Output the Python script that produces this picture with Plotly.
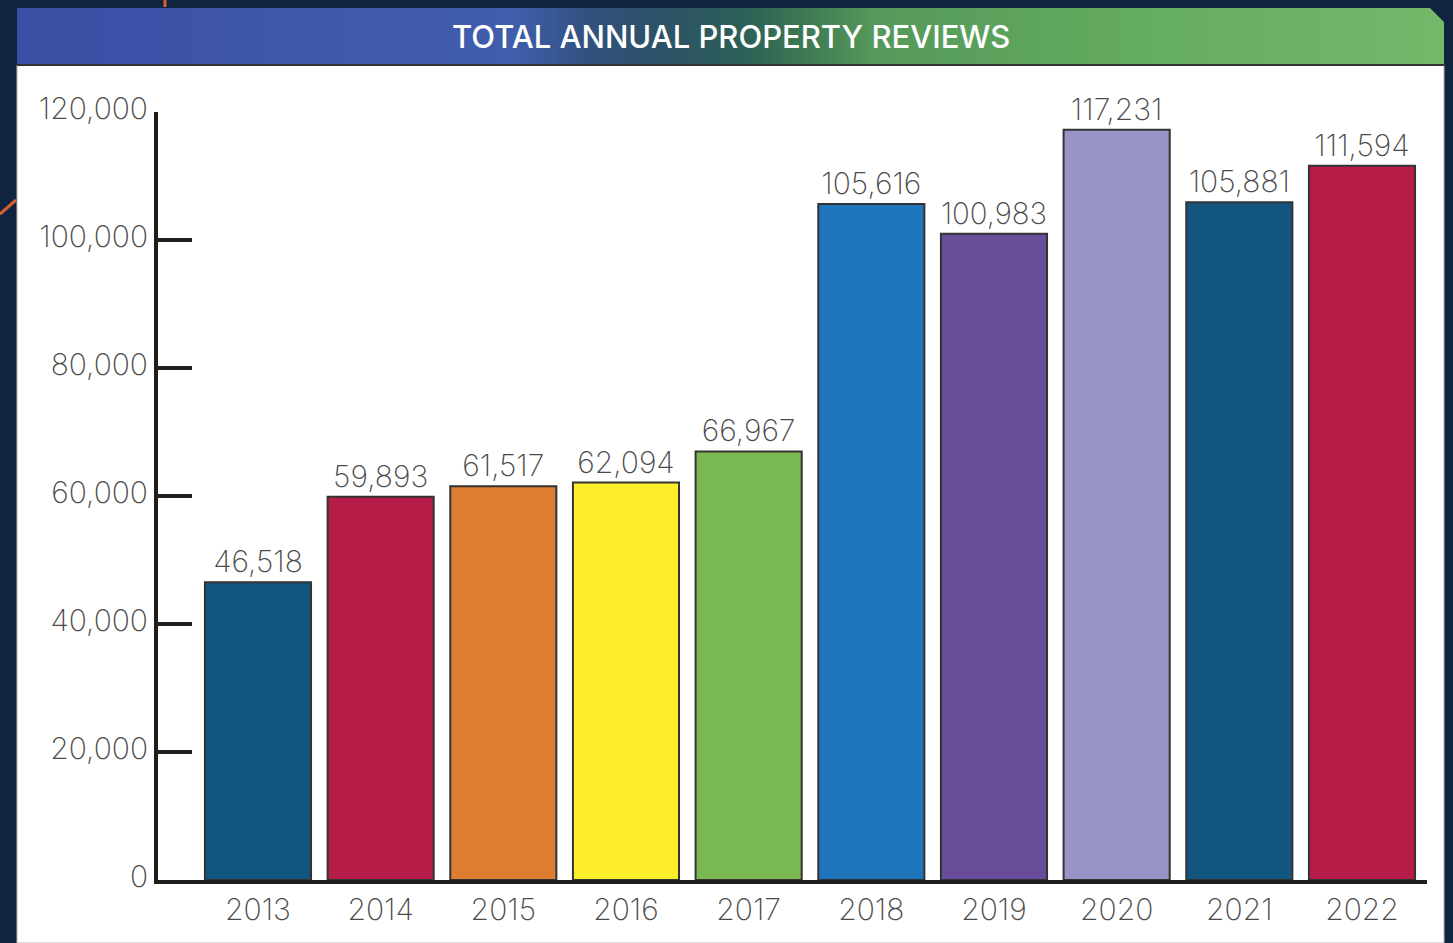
import plotly.graph_objects as go

# ---- data ----
years = ["2013", "2014", "2015", "2016", "2017", "2018", "2019", "2020", "2021", "2022"]
reviews = [46518, 59893, 61517, 62094, 66967, 105616, 100983, 117231, 105881, 111594]
bar_colors = ["#12557f", "#b51c47", "#dc7d2f", "#fcee2a", "#7ab852",
              "#1f75bb", "#6a4d9a", "#9895c6", "#12557f", "#b51c47"]
y_ticks = [0, 20000, 40000, 60000, 80000, 100000, 120000]
y_tick_text = ["0", "20,000", "40,000", "60,000", "80,000", "100,000", "120,000"]
title_text = "TOTAL ANNUAL PROPERTY REVIEWS"

W, H = 1453, 943
FONT = "Inter"
GRAY = "#4a4a4a"
LIGHT = 250


def px(x):
    return x / W


def py(y):
    return 1 - y / H


fig = go.Figure()

fig.add_trace(go.Bar(
    x=years, y=reviews,
    marker=dict(color=bar_colors, line=dict(color="#333333", width=2)),
    text=[f"{v:,}" for v in reviews],
    textposition="outside",
    textfont=dict(family=FONT, size=30, color=GRAY, weight=LIGHT),
    cliponaxis=False,
    width=0.865,
    hoverinfo="skip",
    xaxis="x", yaxis="y",
))

# banner (decoration) on a full-figure overlay axis in pixel units
fig.add_trace(go.Scatter(
    x=[17, 1430, 1444, 1444, 17, 17],
    y=[8, 8, 22, 65, 65, 8],
    fill="toself", mode="lines",
    line=dict(width=0, color="rgba(0,0,0,0)"),
    fillgradient=dict(type="horizontal", start=17, stop=1444, colorscale=[
        [0.0, "#3a4ea4"], [0.25, "#4259ad"], [0.35, "#3f5eab"],
        [0.40, "#32517f"], [0.45, "#2c5266"], [0.51, "#2d6058"],
        [0.55, "#3c7852"], [0.60, "#54995a"], [0.80, "#65ad60"],
        [1.0, "#74b86a"]]),
    hoverinfo="skip", showlegend=False,
    xaxis="x2", yaxis="y2",
))

fig.update_layout(
    width=W, height=H,
    autosize=False,
    margin=dict(l=0, r=0, t=0, b=0, pad=0),
    paper_bgcolor="#10243f",
    plot_bgcolor="rgba(0,0,0,0)",
    showlegend=False,
    bargap=0.135,
    font=dict(family=FONT, color=GRAY),
    xaxis=dict(
        domain=[px(158), px(1427)],
        range=[-0.815, 9.53],
        type="category",
        showline=True, linecolor="#1e1e1e", linewidth=4,
        showgrid=False, zeroline=False,
        ticks="", ticklabelstandoff=0,
        tickfont=dict(family=FONT, size=30, color=GRAY, weight=LIGHT),
        anchor="y", fixedrange=True, automargin=False,
    ),
    yaxis=dict(
        domain=[py(880), py(112)],
        range=[0, 120000],
        showline=True, linecolor="#1e1e1e", linewidth=4,
        showgrid=False, zeroline=False,
        tickvals=y_ticks, ticktext=y_tick_text,
        ticks="inside", ticklen=34, tickwidth=3.5, tickcolor="#1e1e1e",
        ticklabelshift=-4, ticklabelstandoff=0,
        tickfont=dict(family=FONT, size=30, color=GRAY, weight=LIGHT),
        anchor="x", fixedrange=True, automargin=False,
    ),
    xaxis2=dict(domain=[0, 1], range=[0, W], visible=False, anchor="y2",
                fixedrange=True, automargin=False),
    yaxis2=dict(domain=[0, 1], range=[H, 0], visible=False, anchor="x2",
                fixedrange=True, automargin=False),
    shapes=[
        # white panel
        dict(type="rect", xref="paper", yref="paper",
             x0=px(17), x1=px(1444), y0=py(943), y1=py(65),
             fillcolor="white", line=dict(color="#b8b8b8", width=1), layer="below"),
        # banner bottom rule
        dict(type="line", xref="paper", yref="paper",
             x0=px(17), x1=px(1444), y0=py(65), y1=py(65),
             line=dict(color="#333333", width=2)),
        # orange decorative strokes
        dict(type="line", xref="paper", yref="paper",
             x0=px(165), x1=px(165), y0=py(0), y1=py(7),
             line=dict(color="#d4622e", width=3)),
        dict(type="line", xref="paper", yref="paper",
             x0=px(0), x1=px(16), y0=py(214), y1=py(200),
             line=dict(color="#d4622e", width=3)),
    ],
    annotations=[
        dict(text=title_text, xref="paper", yref="paper",
             x=px(731), y=py(36), xanchor="center", yanchor="middle",
             showarrow=False,
             font=dict(family=FONT, size=31, color="white", weight=500)),
    ],
)

fig.write_html(
    "out.html",
    config={"displayModeBar": False},
    post_script="document.body.style.margin='0';document.body.style.overflow='hidden';",
)
